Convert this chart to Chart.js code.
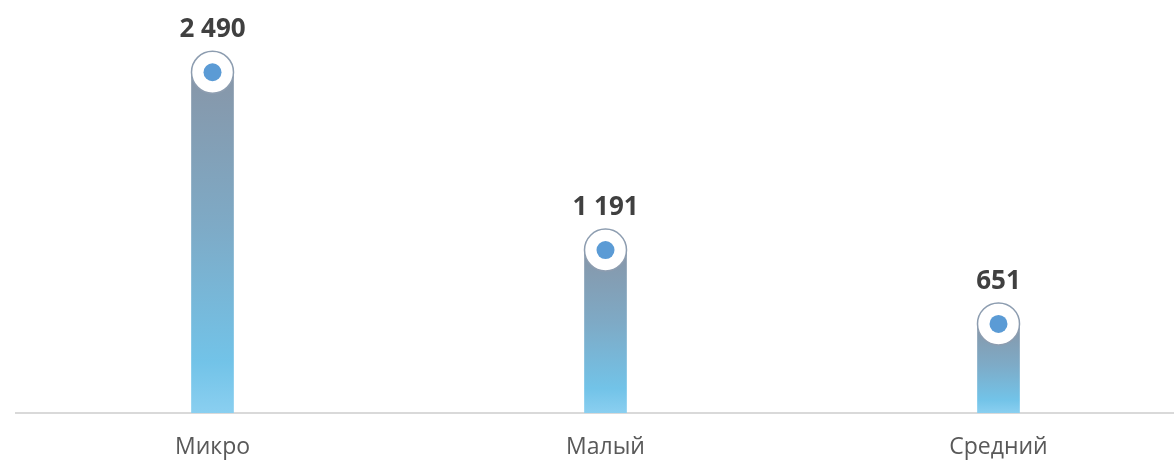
<!DOCTYPE html>
<html>
<head>
<meta charset="utf-8">
<script src="https://cdn.jsdelivr.net/npm/chart.js@4"></script>
<style>
  html, body { margin: 0; padding: 0; background: #ffffff; }
  #wrap { width: 1174px; height: 460px; position: relative; }
</style>
</head>
<body>
<div id="wrap"><canvas id="c"></canvas></div>
<script>
const categories = ['Микро', 'Малый', 'Средний'];
const values = [2490, 1191, 651];
const valueLabels = ['2 490', '1 191', '651'];

const pts = values.map((v, i) => ({ x: i, y: v }));

function barGradient(ctx) {
  const chart = ctx.chart;
  const area = chart.chartArea;
  if (!area || ctx.type !== 'data') return '#72c3e8';
  const yScale = chart.scales.y;
  const top = yScale.getPixelForValue(values[ctx.dataIndex]);
  const bottom = yScale.getPixelForValue(0);
  const g = chart.ctx.createLinearGradient(0, top, 0, bottom);
  g.addColorStop(0, '#8796a8');
  g.addColorStop(0.45, '#7eaac6');
  g.addColorStop(0.85, '#72c3e8');
  g.addColorStop(1, '#8acff0');
  return g;
}

const valueLabelPlugin = {
  id: 'valueLabels',
  afterDatasetsDraw(chart) {
    const { ctx } = chart;
    const xs = chart.scales.x, ys = chart.scales.y;
    ctx.save();
    ctx.font = 'bold 26px "Open Sans", sans-serif';
    ctx.fillStyle = '#404040';
    ctx.textAlign = 'center';
    ctx.textBaseline = 'alphabetic';
    values.forEach((v, i) => {
      ctx.fillText(valueLabels[i], xs.getPixelForValue(i), ys.getPixelForValue(v) - 35);
    });
    ctx.restore();
  }
};

new Chart(document.getElementById('c'), {
  data: {
    datasets: [
      {
        type: 'line',
        data: pts,
        showLine: false,
        pointRadius: 9,
        pointHoverRadius: 9,
        pointBackgroundColor: '#5b9bd5',
        pointBorderWidth: 0,
        clip: false,
        order: 0
      },
      {
        type: 'line',
        data: pts,
        showLine: false,
        pointRadius: 21,
        pointHoverRadius: 21,
        pointBackgroundColor: '#ffffff',
        pointBorderColor: '#8d9db0',
        pointBorderWidth: 1.5,
        clip: false,
        order: 1
      },
      {
        type: 'bar',
        data: pts,
        backgroundColor: barGradient,
        borderWidth: 0,
        barThickness: 42,
        order: 2
      }
    ]
  },
  options: {
    responsive: true,
    maintainAspectRatio: false,
    animation: false,
    layout: { autoPadding: false, padding: { left: 16, right: 1, top: 0, bottom: 0 } },
    plugins: { legend: { display: false }, tooltip: { enabled: false } },
    scales: {
      x: {
        type: 'linear',
        offset: false,
        min: -0.5,
        max: 1157 / 393 - 0.5,
        grid: { display: false, drawTicks: false, offset: false },
        border: { display: true, color: '#d9d9d9', width: 2 },
        afterBuildTicks(scale) {
          scale.ticks = categories.map((c, i) => ({ value: i }));
        },
        afterFit(scale) { scale.height = 47; },
        ticks: {
          autoSkip: false,
          maxRotation: 0,
          padding: 21,
          color: '#595959',
          font: { family: '"Open Sans", sans-serif', size: 23 },
          callback: (v) => categories[v]
        }
      },
      y: {
        display: false,
        min: 0,
        max: 3018
      }
    }
  },
  plugins: [valueLabelPlugin]
});
</script>
</body>
</html>
